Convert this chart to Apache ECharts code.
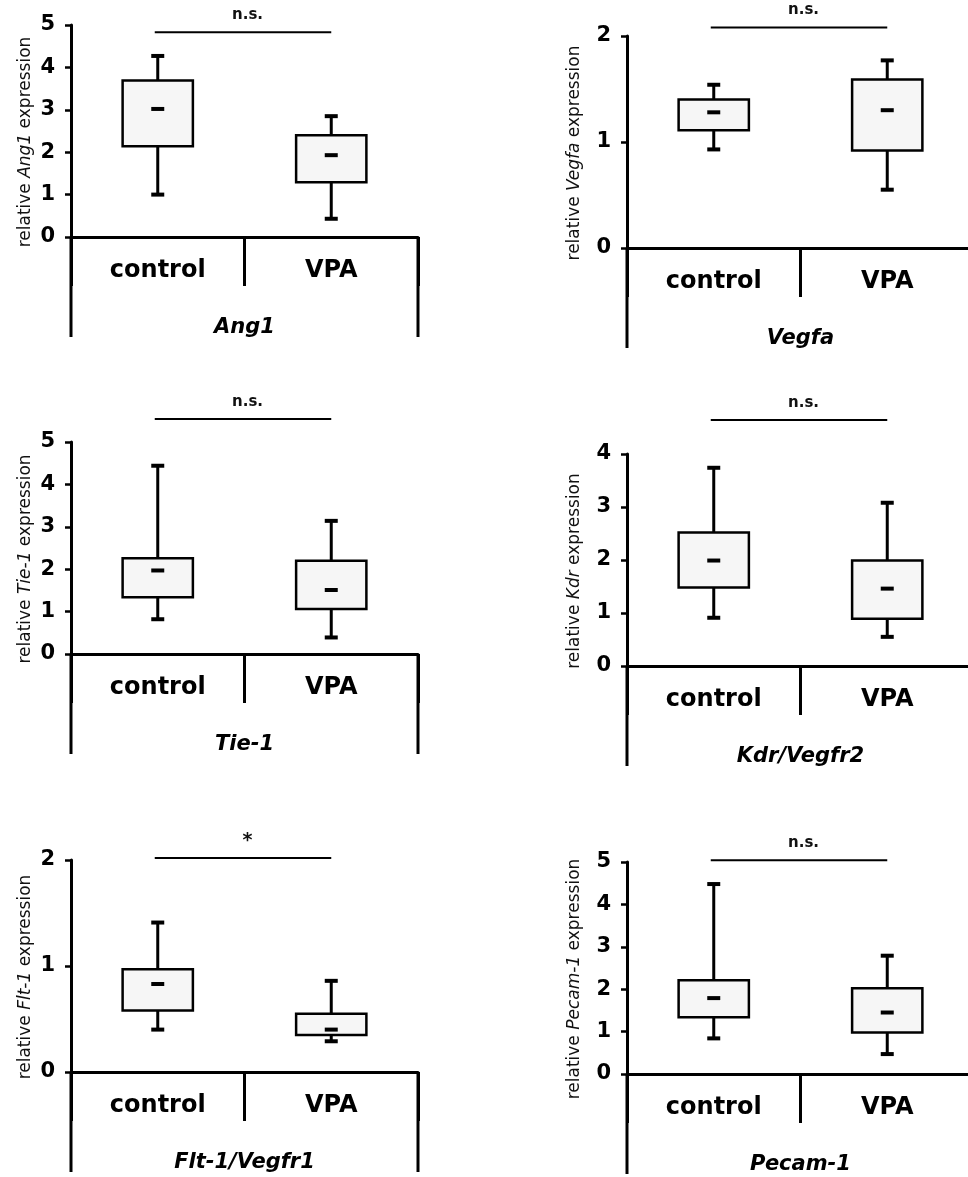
<!DOCTYPE html>
<html>
<head>
<meta charset="utf-8">
<script src="https://cdn.jsdelivr.net/npm/echarts@6/dist/echarts.min.js"></script>
<style>
html, body { margin: 0; padding: 0; background: #fff; }
#main { width: 968px; height: 1177px; }
</style>
</head>
<body>
<div id="main"></div>
<script>
// values: [min, q1, median, q3, max]
var categories = ['control', 'VPA'];
var genes = ['Ang1', 'Vegfa', 'Tie-1', 'Kdr/Vegfr2', 'Flt-1/Vegfr1', 'Pecam-1'];
var yGenes = ['Ang1', 'Vegfa', 'Tie-1', 'Kdr', 'Flt-1', 'Pecam-1'];
var controlBoxes = [
    [1.00, 2.14, 3.02, 3.69, 4.27],
    [0.93, 1.11, 1.28, 1.40, 1.54],
    [0.82, 1.34, 1.97, 2.26, 4.44],
    [0.91, 1.48, 1.99, 2.52, 3.74],
    [0.40, 0.58, 0.83, 0.97, 1.41],
    [0.84, 1.34, 1.79, 2.21, 4.48]
];
var vpaBoxes = [
    [0.43, 1.29, 1.93, 2.40, 2.85],
    [0.55, 0.92, 1.30, 1.59, 1.77],
    [0.39, 1.06, 1.51, 2.20, 3.14],
    [0.55, 0.89, 1.46, 1.99, 3.08],
    [0.29, 0.35, 0.40, 0.55, 0.86],
    [0.47, 0.98, 1.45, 2.02, 2.79]
];
var yMax = [5, 2, 5, 4, 2, 5];
var yTicks = [1, 1, 1, 1, 1, 1];
var sigLevel = [4.83, 2.08, 5.54, 4.64, 2.02, 5.04];
var sigText = ['n.s.', 'n.s.', 'n.s.', 'n.s.', '*', 'n.s.'];

// panel layout (px)
var panelLeft = [71, 627, 71, 627, 71, 627];
var panelTop = [25, 36, 442, 454, 860, 862];
var panelW = 347, panelH = 212;
var nameGaps = [37, 44, 37, 44, 37, 44];
var frameDepth = 100;
var FONT = 'DejaVu Sans';

function renderBox(params, api) {
    var x = api.value(0);
    var lo = api.coord([x, api.value(1)]);
    var q1 = api.coord([x, api.value(2)]);
    var md = api.coord([x, api.value(3)]);
    var q3 = api.coord([x, api.value(4)]);
    var hi = api.coord([x, api.value(5)]);
    var band = api.size([1, 0])[0];
    var bw = band * 0.405;
    var cw = 13;
    var cx = md[0];
    return {
        type: 'group',
        children: [
            {type: 'line', shape: {x1: cx, y1: hi[1], x2: cx, y2: lo[1]}, style: {stroke: '#000', lineWidth: 3}},
            {type: 'line', shape: {x1: cx - cw / 2, y1: hi[1], x2: cx + cw / 2, y2: hi[1]}, style: {stroke: '#000', lineWidth: 4}},
            {type: 'line', shape: {x1: cx - cw / 2, y1: lo[1], x2: cx + cw / 2, y2: lo[1]}, style: {stroke: '#000', lineWidth: 4}},
            {type: 'rect', shape: {x: cx - bw / 2, y: q3[1], width: bw, height: q1[1] - q3[1]}, style: {fill: '#f6f6f6', stroke: '#000', lineWidth: 2.5}},
            {type: 'line', shape: {x1: cx - cw / 2, y1: md[1], x2: cx + cw / 2, y2: md[1]}, style: {stroke: '#000', lineWidth: 4}}
        ]
    };
}

var grids = [], xAxes = [], yAxes = [], series = [];
for (var i = 0; i < genes.length; i++) {
    grids.push({
        left: panelLeft[i], top: panelTop[i], width: panelW, height: panelH,
        containLabel: false, outerBoundsMode: 'none'
    });
    xAxes.push({
        type: 'category', gridIndex: i, data: categories,
        axisLine: {show: true, onZero: false, lineStyle: {color: '#000', width: 3}},
        axisTick: {show: true, interval: 0, length: 49, lineStyle: {color: '#000', width: 3}},
        axisLabel: {interval: 0, margin: 22, fontSize: 24, fontWeight: 'bold', fontFamily: FONT, color: '#000'},
        name: genes[i], nameLocation: 'middle', nameGap: 80,
        nameTextStyle: {fontSize: 21, fontWeight: 'bold', fontStyle: 'italic', fontFamily: FONT, color: '#000'},
        splitLine: {show: false}
    });
    yAxes.push({
        type: 'value', gridIndex: i, min: 0, max: yMax[i], interval: yTicks[i],
        axisLine: {show: true, lineStyle: {color: '#000', width: 3}},
        axisTick: {show: true, length: 6, lineStyle: {color: '#000', width: 2.5}},
        axisLabel: {margin: 16, fontSize: 21, fontWeight: 'bold', fontFamily: FONT, color: '#000'},
        splitLine: {show: false},
        name: 'relative {i|' + yGenes[i] + '} expression',
        nameLocation: 'middle', nameRotate: 90, nameGap: nameGaps[i], nameMoveOverlap: false,
        nameTextStyle: {
            fontSize: 17, fontFamily: FONT, color: '#111', padding: [0, 22, 0, 0],
            rich: {i: {fontSize: 17, fontFamily: FONT, fontStyle: 'italic', color: '#111'}}
        }
    });
    series.push({
        type: 'custom', xAxisIndex: i, yAxisIndex: i,
        renderItem: renderBox,
        encode: {x: 0, y: [1, 2, 3, 4, 5]},
        data: [[0].concat(controlBoxes[i]), [1].concat(vpaBoxes[i])],
        silent: true
    });
}

var chart = echarts.init(document.getElementById('main'));
chart.setOption({
    animation: false,
    backgroundColor: '#fff',
    grid: grids,
    xAxis: xAxes,
    yAxis: yAxes,
    series: series
});

// frame below the zero line and the significance bars
var graphics = [];
for (var j = 0; j < genes.length; j++) {
    var p0 = chart.convertToPixel({gridIndex: j}, [0, 0]);
    var p1 = chart.convertToPixel({gridIndex: j}, [1, 0]);
    var band = p1[0] - p0[0];
    var leftX = p0[0] - band / 2, rightX = p1[0] + band / 2;
    [leftX, rightX].forEach(function (xx) {
        graphics.push({
            type: 'line', silent: true,
            shape: {x1: xx, y1: p0[1], x2: xx, y2: p0[1] + frameDepth},
            style: {stroke: '#000', lineWidth: 3}
        });
    });
    var s0 = chart.convertToPixel({gridIndex: j}, [0, sigLevel[j]]);
    var s1 = chart.convertToPixel({gridIndex: j}, [1, sigLevel[j]]);
    graphics.push({
        type: 'line', silent: true,
        shape: {x1: s0[0] - 3, y1: s0[1], x2: s1[0], y2: s1[1]},
        style: {stroke: '#000', lineWidth: 2}
    });
    graphics.push({
        type: 'text', silent: true,
        x: (s0[0] + s1[0]) / 2 + 3, y: s0[1] - 17,
        style: {
            text: sigText[j], textAlign: 'center', textVerticalAlign: 'middle',
            fontSize: sigText[j] === '*' ? 19 : 15, fontWeight: 'bold', fontFamily: FONT, fill: '#111'
        }
    });
}
chart.setOption({graphic: graphics});
</script>
</body>
</html>
